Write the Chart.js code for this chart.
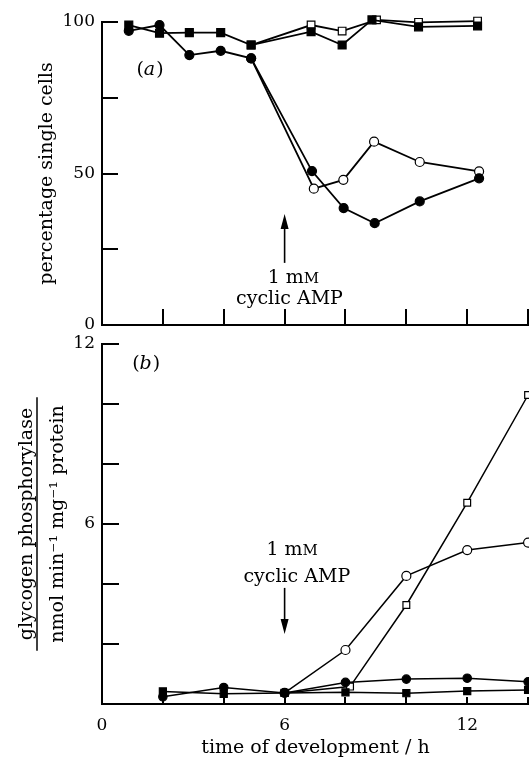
<!DOCTYPE html>
<html>
<head>
<meta charset="utf-8">
<script src="https://cdn.jsdelivr.net/npm/chart.js@4.4.0/dist/chart.umd.min.js"></script>
<style>
  body { margin: 0; background: #fff; }
  #wrap { position: relative; width: 529px; height: 759px; overflow: hidden; background: #fff; }
  canvas { position: absolute; left: 0; }
  #chartA { top: 0; }
  #chartB { top: 330px; }
</style>
</head>
<body>
<div id="wrap">
  <canvas id="chartA" width="529" height="340"></canvas>
  <canvas id="chartB" width="529" height="429"></canvas>
</div>
<script>
// (a) percentage single cells vs time (h)
const aFilledSqTime = [0.88, 1.89, 2.87, 3.9, 4.9, 6.87, 7.89, 8.87, 10.4, 12.34];
const aFilledSq     = [99.0, 96.3, 96.5, 96.5, 92.4, 96.8, 92.4, 100.7, 98.4, 98.7];
const aOpenSqTime   = [4.9, 6.87, 7.89, 9.02, 10.4, 12.34];
const aOpenSq       = [92.4, 99.0, 97.0, 100.7, 99.9, 100.3];
const aFilledCiTime = [0.88, 1.89, 2.87, 3.9, 4.9, 6.9, 7.94, 8.96, 10.44, 12.39];
const aFilledCi     = [97.1, 99.0, 89.1, 90.5, 88.0, 50.8, 38.6, 33.6, 40.8, 48.4];
const aOpenCiTime   = [4.9, 6.96, 7.93, 8.94, 10.44, 12.39];
const aOpenCi       = [88.0, 45.0, 47.9, 60.5, 53.8, 50.7];

// (b) glycogen phosphorylase vs time (h)
const bTime         = [2, 4, 6, 8, 10, 12, 14];
const bFilledSq     = [0.42, 0.34, 0.37, 0.39, 0.36, 0.43, 0.47];
const bFilledCi     = [0.24, 0.55, 0.37, 0.72, 0.83, 0.86, 0.74];
const bOpenCiTime   = [6, 8, 10, 12, 14];
const bOpenCi       = [0.37, 1.8, 4.27, 5.13, 5.38];
const bOpenSqTime   = [6, 8.15, 10, 12, 14];
const bOpenSq       = [0.37, 0.58, 3.3, 6.71, 10.3];

// axes
const xTicks   = [0, 2, 4, 6, 8, 10, 12, 14];
const bXLabels = [0, 6, 12];
const aYTicks  = [0, 25, 50, 75, 100];
const aYLabels = [0, 50, 100];
const bYTicks  = [0, 2, 4, 6, 8, 10, 12];
const bYLabels = [6, 12];

const FONT = 'DejaVu Serif';
Chart.defaults.font.family = FONT;
Chart.defaults.color = '#000';

const pts = (xs, ys) => xs.map((x, i) => ({ x: x, y: ys[i] }));

function line(data, style, filled, r, lw) {
  return {
    data: data,
    borderColor: '#000',
    borderWidth: lw,
    pointStyle: style,
    pointRadius: r,
    pointHoverRadius: r,
    pointBackgroundColor: filled ? '#000' : '#fff',
    pointBorderColor: '#000',
    pointBorderWidth: 1.2,
    tension: 0,
    clip: false
  };
}

function panelLabel(ctx, letter, x, y) {
  ctx.textBaseline = 'middle';
  ctx.textAlign = 'left';
  ctx.font = '19px "' + FONT + '"';
  ctx.fillText('(', x, y);
  let w = ctx.measureText('(').width;
  ctx.font = 'italic 19px "' + FONT + '"';
  ctx.fillText(letter, x + w, y);
  w += ctx.measureText(letter).width + 1;
  ctx.font = '19px "' + FONT + '"';
  ctx.fillText(')', x + w, y);
}

function dose(ctx, cx, base) {
  ctx.textBaseline = 'alphabetic';
  ctx.textAlign = 'left';
  ctx.font = '19px "' + FONT + '"';
  const w1 = ctx.measureText('1 m').width;
  ctx.font = '15px "' + FONT + '"';
  const w2 = ctx.measureText('M').width;
  const x = cx - (w1 + w2) / 2;
  ctx.font = '19px "' + FONT + '"';
  ctx.fillText('1 m', x, base);
  ctx.font = '15px "' + FONT + '"';
  ctx.fillText('M', x + w1, base);
}

function arrow(ctx, x, y0, y1) {
  const dir = Math.sign(y1 - y0);
  ctx.lineWidth = 1.6;
  ctx.beginPath();
  ctx.moveTo(x, y0);
  ctx.lineTo(x, y1 - dir * 10);
  ctx.stroke();
  ctx.beginPath();
  ctx.moveTo(x, y1);
  ctx.lineTo(x - 4, y1 - dir * 15);
  ctx.lineTo(x + 4, y1 - dir * 15);
  ctx.closePath();
  ctx.fill();
}

const notes = {
  id: 'notes',
  afterDraw(chart, args, o) {
    const ctx = chart.ctx;
    const xs = chart.scales.x, ys = chart.scales.y;
    const px = v => xs.getPixelForValue(v), py = v => ys.getPixelForValue(v);
    ctx.save();
    ctx.fillStyle = '#000';
    ctx.strokeStyle = '#000';
    panelLabel(ctx, o.letter, px(o.letterAt[0]), py(o.letterAt[1]));
    arrow(ctx, px(o.arrowX), py(o.arrowFrom), py(o.arrowTo));
    dose(ctx, px(o.doseAt[0]), py(o.doseAt[1]));
    ctx.font = '19px "' + FONT + '"';
    ctx.textAlign = 'center';
    ctx.textBaseline = 'alphabetic';
    ctx.fillText('cyclic AMP', px(o.agentAt[0]), py(o.agentAt[1]));
    if (o.barX) {
      const mid = (ys.top + ys.bottom) / 2;
      ctx.font = '19px "' + FONT + '"';
      const half = ctx.measureText('nmol min⁻¹ mg⁻¹ protein').width / 2 + 8;
      ctx.lineWidth = 1.5;
      ctx.beginPath();
      ctx.moveTo(o.barX, mid - half);
      ctx.lineTo(o.barX, mid + half);
      ctx.stroke();
    }
    ctx.restore();
  }
};

// tick padding is also added to the layout padding, so zero it after fit
function xAxis(tickLen, labels, height, withTitle) {
  return {
    type: 'linear',
    min: 0,
    max: 14.03,
    afterBuildTicks: s => { s.ticks = xTicks.map(v => ({ value: v })); },
    afterFit: s => { s.height = height; s.paddingLeft = 0; s.paddingRight = 0; },
    grid: { drawOnChartArea: false, drawTicks: true, tickLength: -tickLen, lineWidth: 2, color: '#000' },
    border: { display: true, color: '#000', width: 2 },
    ticks: {
      display: labels.length > 0,
      autoSkip: false,
      maxRotation: 0,
      padding: tickLen + 11,
      font: { size: 17 },
      callback: v => labels.includes(v) ? String(v) : ''
    },
    title: {
      display: withTitle,
      text: 'time of development / h',
      font: { size: 19 },
      padding: { top: 0, bottom: 0 }
    }
  };
}

function yAxis(min, max, ticks, labels, tickLen, title, titleFont, titlePad) {
  return {
    type: 'linear',
    min: min,
    max: max,
    afterBuildTicks: s => { s.ticks = ticks.map(v => ({ value: v })); },
    afterFit: s => { s.width = 102; s.paddingTop = 0; s.paddingBottom = 0; },
    grid: { drawOnChartArea: false, drawTicks: true, tickLength: -tickLen, lineWidth: 2, color: '#000' },
    border: { display: true, color: '#000', width: 2 },
    ticks: {
      autoSkip: false,
      padding: tickLen + 7,
      font: { size: 17 },
      callback: v => labels.includes(v) ? String(v) : ''
    },
    title: {
      display: true,
      text: title,
      font: titleFont,
      padding: { top: titlePad, bottom: 0 }
    }
  };
}

const common = {
  responsive: false,
  animation: false,
  events: [],
  plugins: { legend: { display: false }, tooltip: { enabled: false } }
};

new Chart(document.getElementById('chartA'), {
  type: 'line',
  data: {
    datasets: [
      line(pts(aFilledSqTime, aFilledSq), 'rect', true, 5.6, 1.8),
      line(pts(aFilledCiTime, aFilledCi), 'circle', true, 4.5, 1.8),
      line(pts(aOpenSqTime, aOpenSq), 'rect', false, 5.4, 1.8),
      line(pts(aOpenCiTime, aOpenCi), 'circle', false, 4.5, 1.8)
    ]
  },
  options: Object.assign({}, common, {
    layout: { autoPadding: false, padding: { top: 22, left: 0, right: 0, bottom: 0 } },
    scales: {
      x: xAxis(16, [], 15, false),
      y: yAxis(0, 100, aYTicks, aYLabels, 16, 'percentage single cells', { size: 19 }, 36)
    },
    plugins: Object.assign({}, common.plugins, {
      notes: {
        letter: 'a', letterAt: [1.13, 84],
        arrowX: 6, arrowFrom: 20.5, arrowTo: 36.6,
        doseAt: [6.29, 13.9], agentAt: [6.16, 6.9]
      }
    })
  }),
  plugins: [notes]
});

new Chart(document.getElementById('chartB'), {
  type: 'line',
  data: {
    datasets: [
      line(pts(bTime, bFilledSq), 'rect', true, 5, 1.5),
      line(pts(bTime, bFilledCi), 'circle', true, 4.2, 1.5),
      line(pts(bOpenSqTime, bOpenSq), 'rect', false, 4.8, 1.5),
      line(pts(bOpenCiTime, bOpenCi), 'circle', false, 4.5, 1.5)
    ]
  },
  options: Object.assign({}, common, {
    layout: { autoPadding: false, padding: { top: 14, left: 0, right: 0, bottom: 0 } },
    scales: {
      x: xAxis(7, bXLabels, 55, true),
      y: yAxis(0, 12, bYTicks, bYLabels, 17,
        ['glycogen phosphorylase', 'nmol min⁻¹ mg⁻¹ protein'],
        { size: 19, lineHeight: '31px' }, 12)
    },
    plugins: Object.assign({}, common.plugins, {
      notes: {
        letter: 'b', letterAt: [0.99, 11.33],
        arrowX: 6, arrowFrom: 3.87, arrowTo: 2.33,
        doseAt: [6.25, 4.97], agentAt: [6.4, 4.08],
        barX: 37
      }
    })
  }),
  plugins: [notes]
});
</script>
</body>
</html>
